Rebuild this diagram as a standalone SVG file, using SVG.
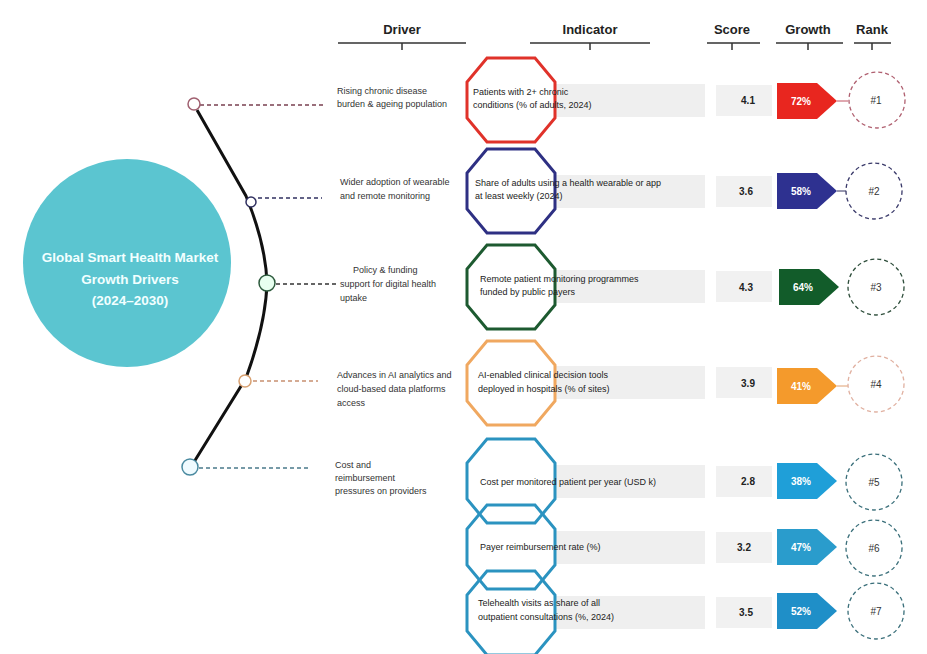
<svg xmlns="http://www.w3.org/2000/svg" width="927" height="654" viewBox="0 0 927 654">
<style>
.hdr{font-family:"Liberation Sans",Arial,sans-serif;font-size:13px;font-weight:bold;fill:#222;text-anchor:middle}
.uline{stroke:#333;stroke-width:1.5;fill:none}
.lbl{font-family:"Liberation Sans",Arial,sans-serif;font-size:9px;fill:#333}
.ind{font-family:"Liberation Sans",Arial,sans-serif;font-size:9px;fill:#222}
.num{font-family:"Liberation Sans",Arial,sans-serif;font-size:10px;font-weight:bold;fill:#222;text-anchor:middle}
.tag{font-family:"Liberation Sans",Arial,sans-serif;font-size:10px;font-weight:bold;fill:#fff;text-anchor:middle}
.rk{font-family:"Liberation Sans",Arial,sans-serif;font-size:10px;fill:#333;text-anchor:middle}
.bar{fill:#efefef}
.box{fill:#f1f1f1}
.oct{fill:none;stroke-width:3}
.rc{fill:#fff;stroke-width:1.3;stroke-dasharray:4 3}
.dash{fill:none;stroke-width:1.5;stroke-dasharray:4 3}
.title{font-family:"Liberation Sans",Arial,sans-serif;font-size:13.5px;font-weight:bold;fill:#f2ffff;text-anchor:middle}
</style>
<defs>
<polygon id="octa" points="-24,-42 24,-42 44,-18 44,18 24,42 -24,42 -44,18 -44,-18"/>
<polygon id="arw" points="0,-18 40,-18 60,0 40,18 0,18"/>
</defs>

<g id="headers">
<text class="hdr" x="402" y="34">Driver</text>
<path class="uline" d="M338 43 H466 M402 43 V50"/>
<text class="hdr" x="590" y="34">Indicator</text>
<path class="uline" d="M530 43 H650 M590 43 V50"/>
<text class="hdr" x="732" y="34">Score</text>
<path class="uline" d="M707 43 H760 M732 43 V50"/>
<text class="hdr" x="808" y="34">Growth</text>
<path class="uline" d="M776 43 H843 M808 43 V50"/>
<text class="hdr" x="872" y="34">Rank</text>
<path class="uline" d="M854 43 H891 M872 43 V50"/>
</g>

<g id="hub">
<circle cx="127" cy="263" r="104" fill="#5bc5d0"/>
<text class="title" x="130" y="262">Global Smart Health Market</text>
<text class="title" x="130" y="284">Growth Drivers</text>
<text class="title" x="130" y="305">(2024–2030)</text>
</g>

<g id="connectors">
<path d="M197 110 L246 196 C258 225 266 255 267 283 C266 315 258 345 246 378 L194 462" fill="none" stroke="#111" stroke-width="3"/>
<line class="dash" x1="200" y1="105" x2="325" y2="105" stroke="#7a4050"/>
<line class="dash" x1="258" y1="198" x2="322" y2="198" stroke="#303060"/>
<line class="dash" x1="276" y1="284" x2="336" y2="284" stroke="#333"/>
<line class="dash" x1="253" y1="381" x2="318" y2="381" stroke="#c89070"/>
<line class="dash" x1="199" y1="468" x2="310" y2="468" stroke="#4a7a8a"/>
<circle cx="194" cy="104" r="6" fill="#fff" stroke="#a06070" stroke-width="1.5"/>
<circle cx="251" cy="202" r="5" fill="#fff" stroke="#303060" stroke-width="1.5"/>
<circle cx="267" cy="283" r="8" fill="#e8fff0" stroke="#2d5a3d" stroke-width="1.5"/>
<circle cx="245" cy="381" r="6" fill="#fff" stroke="#d8a070" stroke-width="1.5"/>
<circle cx="190" cy="467" r="8" fill="#f0fbff" stroke="#4a8aa0" stroke-width="1.5"/>
</g>

<g id="row1">
<text class="lbl" x="337" y="94">Rising chronic disease</text>
<text class="lbl" x="337" y="107">burden &amp; ageing population</text>
<rect class="bar" x="554" y="84" width="151" height="33"/>
<use href="#octa" x="511" y="100" class="oct" stroke="#e0322a"/>
<text class="ind" x="473" y="95">Patients with 2+ chronic</text>
<text class="ind" x="473" y="108">conditions (% of adults, 2024)</text>
<rect class="box" x="716" y="85" width="56" height="31"/>
<text class="num" x="748" y="104">4.1</text>
<use href="#arw" x="777" y="101" fill="#e8261f"/>
<line x1="837" y1="101" x2="848" y2="101" stroke="#c05060" stroke-width="1"/>
<text class="tag" x="801" y="105">72%</text>
<circle class="rc" cx="877" cy="100" r="28" stroke="#b06070"/>
<text class="rk" x="876" y="104">#1</text>
</g>

<g id="row2">
<text class="lbl" x="340" y="185">Wider adoption of wearable</text>
<text class="lbl" x="340" y="199">and remote monitoring</text>
<rect class="bar" x="554" y="175" width="151" height="33"/>
<use href="#octa" x="511" y="191" class="oct" stroke="#2e3083"/>
<text class="ind" x="475" y="186">Share of adults using a health wearable or app</text>
<text class="ind" x="475" y="199">at least weekly (2024)</text>
<rect class="box" x="716" y="176" width="56" height="31"/>
<text class="num" x="746" y="195">3.6</text>
<use href="#arw" x="777" y="191" fill="#2e3190"/>
<line x1="837" y1="191" x2="846" y2="191" stroke="#303060" stroke-width="1"/>
<text class="tag" x="801" y="195">58%</text>
<circle class="rc" cx="874" cy="191" r="28" stroke="#3a3a6a"/>
<text class="rk" x="874" y="195">#2</text>
</g>

<g id="row3">
<text class="lbl" x="353" y="273">Policy &amp; funding</text>
<text class="lbl" x="340" y="287">support for digital health</text>
<text class="lbl" x="340" y="301">uptake</text>
<rect class="bar" x="554" y="270" width="151" height="33"/>
<use href="#octa" x="511" y="287" class="oct" stroke="#1d5a30"/>
<text class="ind" x="480" y="282">Remote patient monitoring programmes</text>
<text class="ind" x="480" y="295">funded by public payers</text>
<rect class="box" x="716" y="271" width="56" height="31"/>
<text class="num" x="746" y="291">4.3</text>
<use href="#arw" x="779" y="287" fill="#125c2a"/>
<text class="tag" x="803" y="291">64%</text>
<circle class="rc" cx="876" cy="287" r="28" stroke="#2d4d3a"/>
<text class="rk" x="876" y="291">#3</text>
</g>

<g id="row4">
<text class="lbl" x="337" y="378">Advances in AI analytics and</text>
<text class="lbl" x="337" y="392">cloud-based data platforms</text>
<text class="lbl" x="337" y="406">access</text>
<rect class="bar" x="554" y="366" width="151" height="33"/>
<use href="#octa" x="511" y="383" class="oct" stroke="#f0a860"/>
<text class="ind" x="478" y="378">AI-enabled clinical decision tools</text>
<text class="ind" x="478" y="392">deployed in hospitals (% of sites)</text>
<rect class="box" x="716" y="367" width="56" height="31"/>
<text class="num" x="748" y="387">3.9</text>
<use href="#arw" x="777" y="386" fill="#f49a2c"/>
<line x1="837" y1="386" x2="848" y2="386" stroke="#e0a070" stroke-width="1"/>
<text class="tag" x="801" y="390">41%</text>
<circle class="rc" cx="876" cy="384" r="28" stroke="#e0b0a0"/>
<text class="rk" x="876" y="388">#4</text>
</g>

<g id="row5">
<text class="lbl" x="335" y="468">Cost and</text>
<text class="lbl" x="335" y="481">reimbursement</text>
<text class="lbl" x="335" y="494">pressures on providers</text>
<rect class="bar" x="554" y="465" width="151" height="33"/>
<use href="#octa" x="511" y="481" class="oct" stroke="#2b93c0"/>
<text class="ind" x="480" y="485">Cost per monitored patient per year (USD k)</text>
<rect class="box" x="716" y="466" width="56" height="31"/>
<text class="num" x="748" y="485">2.8</text>
<use href="#arw" x="777" y="481" fill="#1f9fd8"/>
<text class="tag" x="801" y="485">38%</text>
<circle class="rc" cx="874" cy="482" r="28" stroke="#3a6f7a"/>
<text class="rk" x="874" y="486">#5</text>
</g>

<g id="row6">
<rect class="bar" x="554" y="531" width="151" height="33"/>
<use href="#octa" x="511" y="547" class="oct" stroke="#2b93c0"/>
<text class="ind" x="480" y="550">Payer reimbursement rate (%)</text>
<rect class="box" x="716" y="532" width="56" height="31"/>
<text class="num" x="744" y="551">3.2</text>
<use href="#arw" x="777" y="547" fill="#2a9ccc"/>
<text class="tag" x="801" y="551">47%</text>
<circle class="rc" cx="874" cy="548" r="28" stroke="#3a6f7a"/>
<text class="rk" x="874" y="552">#6</text>
</g>

<g id="row7">
<rect class="bar" x="554" y="596" width="151" height="33"/>
<use href="#octa" x="511" y="613" class="oct" stroke="#2b93c0"/>
<text class="ind" x="478" y="606">Telehealth visits as share of all</text>
<text class="ind" x="478" y="620">outpatient consultations (%, 2024)</text>
<rect class="box" x="716" y="597" width="56" height="31"/>
<text class="num" x="746" y="616">3.5</text>
<use href="#arw" x="777" y="611" fill="#1f8fc8"/>
<text class="tag" x="801" y="615">52%</text>
<circle class="rc" cx="876" cy="611" r="28" stroke="#3a6f7a"/>
<text class="rk" x="876" y="615">#7</text>
</g>
</svg>
